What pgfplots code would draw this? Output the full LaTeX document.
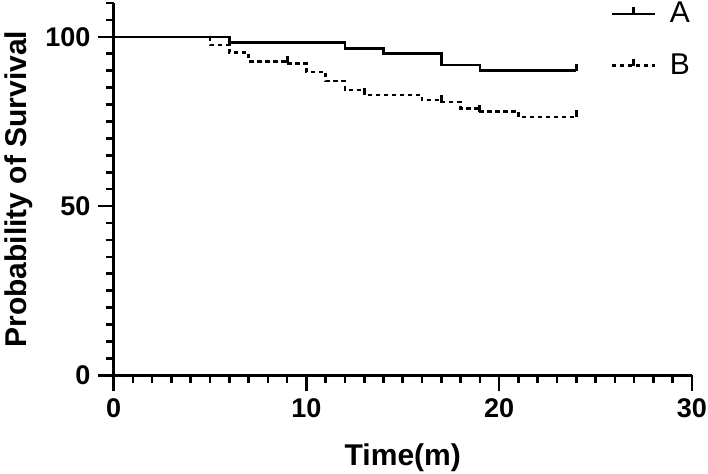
\documentclass[border=0pt]{standalone}
\usepackage{fontspec}
\setmainfont{Liberation Sans}
\usepackage{pgfplots}
\pgfplotsset{compat=1.18}
% censor tick: short stroke pointing up from the curve
\pgfdeclareplotmark{cens}{%
  \pgfpathmoveto{\pgfpointorigin}%
  \pgfpathlineto{\pgfpoint{0pt}{\pgfplotmarksize}}%
  \pgfusepathqstroke}

\begin{document}
\begin{tikzpicture}
\path[use as bounding box] (-56.75pt,-49pt) rectangle (297pt,187.5pt);
\begin{axis}[
    at={(0pt,0pt)}, anchor=south west,
    scale only axis, width=289pt, height=186pt,
    xmin=0, xmax=30, ymin=0, ymax=110,
    axis lines=left,
    axis line style={-, line width=1.5pt},
    xtick={0,10,20,30}, ytick={0,50,100},
    minor xtick={0,1,...,30}, minor ytick={0,5,...,110},
    tick align=outside,
    major tick length=8pt, minor tick length=4pt,
    tick style={black, line width=1.3pt},
    ticklabel style={font=\fontsize{13.5}{15}\selectfont\bfseries},
    /pgf/number format/assume math mode=true,
    xlabel={Time(m)}, ylabel={Probability of Survival},
    label style={font=\fontsize{15}{17}\selectfont\bfseries},
    xlabel style={at={(axis description cs:0.5,-0.242)}, anchor=base},
    ylabel style={at={(axis description cs:-0.1497,0.5)}, anchor=base},
    clip=false,
    legend style={draw=none, fill=none, at={(rel axis cs:0.858,1.014)}, anchor=north west,
        inner sep=0pt, row sep=10pt, font=\fontsize{15}{17}\selectfont,
        /tikz/every odd column/.append style={column sep=5pt}},
    legend cell align=left,
    legend image code/.code={%
        \draw[#1] (0pt,0pt) -- (21.5pt,0pt);
        \draw[solid, line width=1.5pt] (10.75pt,0pt) -- (10.75pt,3.5pt);},
]
\addplot[const plot, black, line width=1.3pt] coordinates {
    (0,100) (6,98.3) (12,96.6) (14,95.0) (17,91.7) (19,90.0) (24,90.0)
};
\addlegendentry{A}
\addplot[const plot, black, line width=1.3pt, dash pattern=on 2.2pt off 1.8pt] coordinates {
    (0,100) (5,97.6) (6,95.3) (7,92.8) (9,92.2) (10,89.6) (11,86.9) (12,84.3)
    (13,82.8) (16,81.3) (17,80.7) (18,78.9) (19,77.9) (21,76.3) (24,76.3)
};
\addlegendentry{B}
% censored observations
\addplot[only marks, mark=cens, mark size=3.5pt, line width=1.5pt, black, forget plot]
    coordinates {(24,90.0)};
\addplot[only marks, mark=cens, mark size=3.5pt, line width=1.5pt, black, forget plot]
    coordinates {(9,92.2) (13,82.8) (17,80.7) (19,77.9) (24,76.3)};
\end{axis}
\end{tikzpicture}
\end{document}
